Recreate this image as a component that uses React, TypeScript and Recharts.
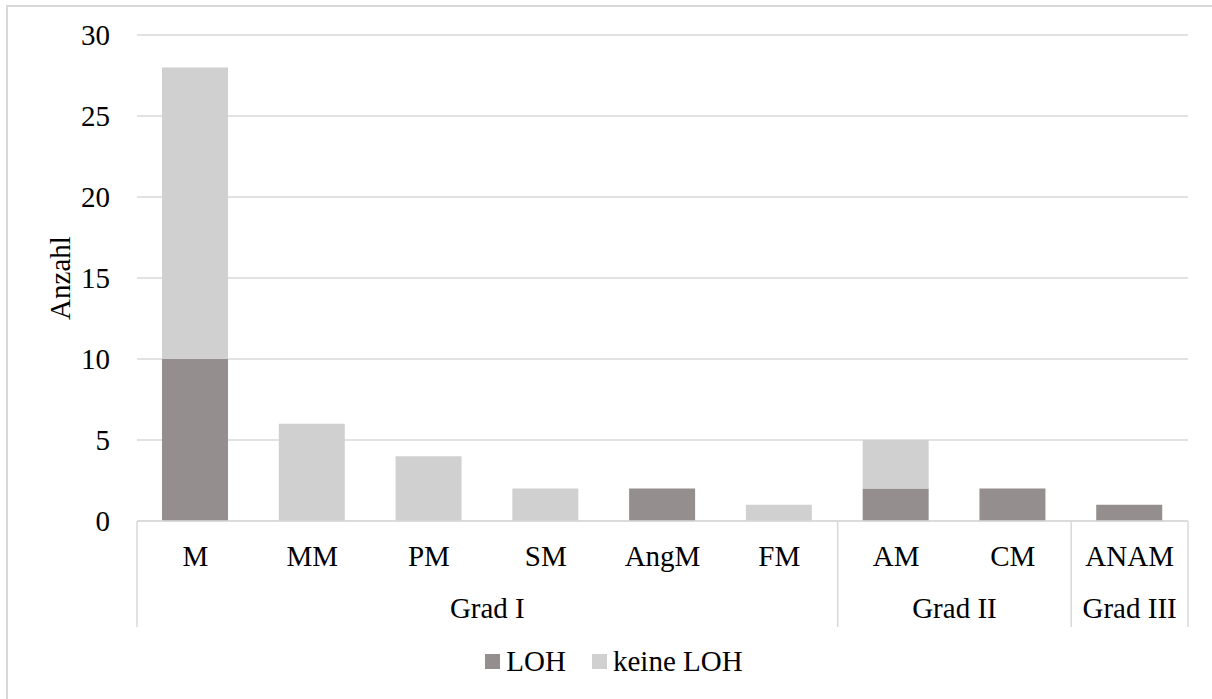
import { Bar, BarChart, CartesianGrid, Legend, XAxis, YAxis } from "recharts";

const categories = ["M", "MM", "PM", "SM", "AngM", "FM", "AM", "CM", "ANAM"];
const grades = ["Grad I", "Grad I", "Grad I", "Grad I", "Grad I", "Grad I", "Grad II", "Grad II", "Grad III"];
const lohValues = [10, 0, 0, 0, 2, 0, 2, 2, 1];
const keineLohValues = [18, 6, 4, 2, 0, 1, 3, 0, 0];
const yTicks = [0, 5, 10, 15, 20, 25, 30];

const data = categories.map((name, i) => ({
  name,
  grad: grades[i],
  loh: lohValues[i],
  keine: keineLohValues[i],
}));

const W = 1212;
const H = 699;
const MARGIN = { top: 35, right: 24, left: 0, bottom: 72 };
const Y_AXIS_W = 137;
const X_AXIS_H = 106;
const BAND = (W - MARGIN.left - MARGIN.right - Y_AXIS_W) / categories.length;

const FONT = "'Liberation Serif', 'Times New Roman', serif";
const FONT_SIZE = 29;
const LINE = "#d9d9d9";
const DARK = "#948f8e";
const LIGHT = "#d0d0d0";

// two-level category axis: item label, then the grade label spanning its group,
// with separators at group edges
function GroupedTick(props: any) {
  const { x, y, payload, index } = props;
  const grad = grades[index];
  const first = index === 0 || grades[index - 1] !== grad;
  const last = index === grades.length - 1;
  let span = 0;
  while (grades[index + span] === grad) span++;
  const left = x - BAND / 2;
  return (
    <g>
      <text x={x} y={y + 45} textAnchor="middle" fontFamily={FONT} fontSize={FONT_SIZE} fill="#000">
        {payload.value}
      </text>
      {first && (
        <>
          <line x1={left} x2={left} y1={y} y2={y + X_AXIS_H} stroke={LINE} strokeWidth={1.5} />
          <text
            x={left + (span * BAND) / 2}
            y={y + 97}
            textAnchor="middle"
            fontFamily={FONT}
            fontSize={FONT_SIZE}
            fill="#000"
          >
            {grad}
          </text>
        </>
      )}
      {last && (
        <line x1={x + BAND / 2} x2={x + BAND / 2} y1={y} y2={y + X_AXIS_H} stroke={LINE} strokeWidth={1.5} />
      )}
    </g>
  );
}

function AxisTitle(props: any) {
  const { viewBox } = props;
  const cx = 60;
  const cy = viewBox.y + viewBox.height / 2;
  return (
    <text
      x={cx}
      y={cy}
      transform={`rotate(-90 ${cx} ${cy})`}
      textAnchor="middle"
      dominantBaseline="central"
      fontFamily={FONT}
      fontSize={FONT_SIZE}
      fill="#000"
    >
      Anzahl
    </text>
  );
}

const legendItems = [
  { label: "LOH", color: DARK },
  { label: "keine LOH", color: LIGHT },
];

function LegendContent() {
  return (
    <div
      style={{
        display: "flex",
        justifyContent: "center",
        alignItems: "center",
        gap: 26,
        fontFamily: FONT,
        fontSize: FONT_SIZE,
        color: "#000",
        paddingLeft: 16,
      }}
    >
      {legendItems.map((it) => (
        <div key={it.label} style={{ display: "flex", alignItems: "center", gap: 6 }}>
          <div style={{ width: 15, height: 15, background: it.color }} />
          <span>{it.label}</span>
        </div>
      ))}
    </div>
  );
}

export default function App() {
  return (
    <div style={{ position: "fixed", left: 0, top: 0, width: W, height: H, background: "#fff", overflow: "hidden" }}>
      <div
        style={{
          position: "absolute",
          left: 6,
          top: 5,
          width: W,
          height: H,
          borderLeft: `2px solid ${LINE}`,
          borderTop: `2px solid ${LINE}`,
        }}
      />
      <BarChart width={W} height={H} data={data} margin={MARGIN} barSize={66}>
        <CartesianGrid vertical={false} stroke={LINE} strokeWidth={1.5} />
        <XAxis
          dataKey="name"
          height={X_AXIS_H}
          axisLine={{ stroke: LINE, strokeWidth: 1.5 }}
          tickLine={false}
          tickSize={0}
          tickMargin={0}
          interval={0}
          tick={<GroupedTick />}
        />
        <YAxis
          width={Y_AXIS_W}
          domain={[0, 30]}
          ticks={yTicks}
          axisLine={false}
          tickLine={false}
          tickMargin={21}
          tick={{ fill: "#000", fontSize: FONT_SIZE, fontFamily: FONT }}
          label={{ content: <AxisTitle /> }}
        />
        <Legend
          layout="horizontal"
          verticalAlign="middle"
          align="center"
          content={<LegendContent />}
          wrapperStyle={{ top: 645, left: 0, width: W }}
        />
        <Bar dataKey="loh" name="LOH" stackId="a" fill={DARK} isAnimationActive={false} />
        <Bar dataKey="keine" name="keine LOH" stackId="a" fill={LIGHT} isAnimationActive={false} />
      </BarChart>
    </div>
  );
}
